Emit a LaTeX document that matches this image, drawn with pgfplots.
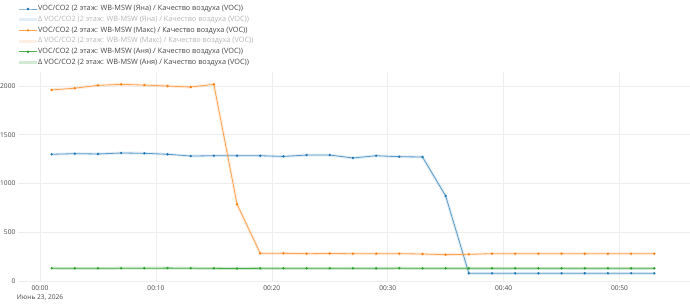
\documentclass[border=0pt]{standalone}
\usepackage{fontspec}
\setmainfont{Open Sans}
\usepackage{pgfplots}
\usepackage{pgfplotstable}
\pgfplotsset{compat=1.18}
\definecolor{cblue}{HTML}{1F77B4}
\definecolor{corange}{HTML}{FF7F0E}
\definecolor{cgreen}{HTML}{2CA02C}
\definecolor{gridc}{HTML}{EEEEEE}
\definecolor{zeroc}{HTML}{888888}
\definecolor{txt}{HTML}{444444}
\definecolor{ltxt}{HTML}{B4B4B4}

\pgfplotstableread{
t blue orange green
1 1300 1960 131
3 1306 1978 130
5 1303 2007 130
7 1313 2017 131
9 1310 2010 131
11 1300 2000 132
13 1282 1990 131
15 1285 2017 130
17 1285 787 128
19 1285 284 130
21 1278 284 130
23 1292 280 130
25 1292 282 130
27 1262 280 130
29 1285 280 130
31 1275 280 131
33 1272 277 130
35 872 270 130
37 79 274 130
39 79 280 130
41 79 280 130
43 79 280 130
45 79 280 130
47 79 280 130
49 79 280 130
51 79 280 130
53 79 280 130
}\data

\begin{document}
\begin{tikzpicture}
\useasboundingbox (0,0) rectangle (690pt,307pt);
\begin{axis}[
  at={(18pt,26pt)}, anchor=south west,
  scale only axis, width=672pt, height=209pt,
  xmin=-1.9, xmax=56.08, ymin=0, ymax=2144,
  axis line style={draw=none},
  tick style={draw=none},
  grid=major,
  major grid style={color=gridc, line width=0.6pt},
  xtick={0,10,20,30,40,50},
  xticklabels={{00:00\\Июнь 23, 2026},00:10,00:20,00:30,00:40,00:50},
  ytick={0,500,1000,1500,2000},
  /pgf/number format/assume math mode=true,
  /pgf/number format/1000 sep={},
  xticklabel style={font=\fontsize{6.6}{8.2}\selectfont, text=txt, inner sep=0pt, yshift=-5pt, align=center},
  yticklabel style={font=\fontsize{6.6}{7}\selectfont, text=txt, inner sep=0pt, xshift=-2.5pt},
  legend style={at={(0,1)}, anchor=south west, xshift=0pt, yshift=6pt,
    draw=none, fill=none, inner sep=0pt, outer sep=0pt,
    font=\fontsize{7.3}{8}\selectfont, text=txt, row sep=3.7pt,
    nodes={inner sep=0pt, text height=5.4pt, text depth=1.6pt}},
  legend cell align=left,
]
\draw[zeroc, line width=0.9pt] (axis cs:-1.9,0) -- (axis cs:56.08,0);
\addplot[color=cblue!70!white, line width=0.8pt, mark=*, mark size=0.75pt, mark options={draw=cblue, fill=cblue}] table[x=t, y=blue] {\data};
\addlegendentry{VOC/CO2 (2 этаж: WB-MSW (Яна) / Качество воздуха (VOC))}
\addplot[color=cblue, line width=3pt, opacity=0.13] table[x=t, y=blue] {\data};
\addlegendentry{\textcolor{ltxt}{Δ VOC/CO2 (2 этаж: WB-MSW (Яна) / Качество воздуха (VOC))}}
\addplot[color=corange!70!white, line width=0.8pt, mark=*, mark size=0.75pt, mark options={draw=corange, fill=corange}] table[x=t, y=orange] {\data};
\addlegendentry{VOC/CO2 (2 этаж: WB-MSW (Макс) / Качество воздуха (VOC))}
\addplot[color=corange, line width=3pt, opacity=0.12] table[x=t, y=orange] {\data};
\addlegendentry{\textcolor{ltxt}{Δ VOC/CO2 (2 этаж: WB-MSW (Макс) / Качество воздуха (VOC))}}
\addplot[color=cgreen!85!white, line width=0.8pt, mark=*, mark size=0.75pt, mark options={draw=cgreen, fill=cgreen}] table[x=t, y=green] {\data};
\addlegendentry{VOC/CO2 (2 этаж: WB-MSW (Аня) / Качество воздуха (VOC))}
\addplot[color=cgreen, line width=3pt, opacity=0.22] table[x=t, y=green] {\data};
\addlegendentry{Δ VOC/CO2 (2 этаж: WB-MSW (Аня) / Качество воздуха (VOC))}
\end{axis}
\end{tikzpicture}
\end{document}
